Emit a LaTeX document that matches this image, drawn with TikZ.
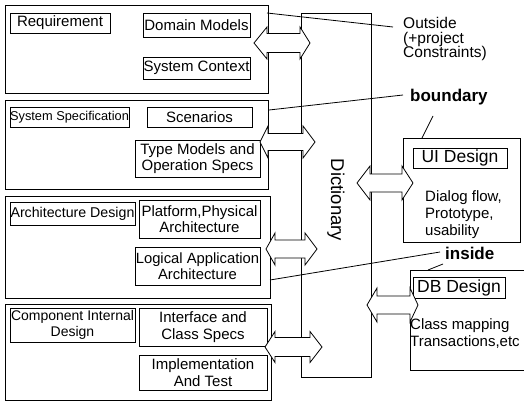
\documentclass[tikz,border=0pt]{standalone}
\usepackage{fontspec}
\setmainfont{Liberation Sans}
\newcommand\bx[7]{\node[#6, minimum width={(#4)-(#2)}, minimum height={(#5)-(#3)}] (#1) at ({((#2)+(#4))/2},{((#3)+(#5))/2}) {#7};}
\newcommand\darr[7]{% xl tip, xl back, xr back, xr tip, yc, bodyhalf, headhalf
  \draw[blk] (#1,#5) -- (#2,#5-#7) -- (#2,#5-#6) -- (#3,#5-#6) -- (#3,#5-#7) -- (#4,#5) -- (#3,#5+#7) -- (#3,#5+#6) -- (#2,#5+#6) -- (#2,#5+#7) -- cycle;}
\begin{document}
\begin{tikzpicture}[x=1pt,y=-1pt,
  frame/.style={draw, line width=0.8pt, inner sep=0pt},
  lbl/.style={draw, line width=0.8pt, inner sep=0pt, align=center, font=\fontsize{15}{16.5}\selectfont},
  txt/.style={inner sep=0pt, align=left, font=\fontsize{15}{17}\selectfont},
  big/.style={inner sep=0pt, font=\fontsize{17}{20}\selectfont\bfseries},
  blk/.style={draw, fill=white, line width=0.8pt, line join=miter},
  ln/.style={draw, line width=0.8pt}]
\useasboundingbox (0,0) rectangle (524,404);
% stage frames
\bx{s1}{5}{5}{268}{93}{frame}{}
\bx{s2}{5}{100}{268}{189}{frame}{}
\bx{s3}{5}{196}{270}{298}{frame}{}
\bx{s4}{5}{304}{271}{400}{frame}{}
% dictionary
\bx{dict}{301}{13}{371}{377}{frame}{}
\node[rotate=-90, inner sep=0pt, font=\fontsize{18.5}{20}\selectfont] (dictlabel) at (336,200) {Dictionary};
% labels in stages
\bx{req}{10}{13}{110}{33}{lbl}{Requirement}
\bx{dom}{143}{13}{250}{37}{lbl}{Domain Models}
\bx{ctx}{143}{57}{250}{79}{lbl}{System Context}
\bx{sysspec}{10}{107}{129}{127}{lbl,font=\fontsize{12.8}{16}\selectfont}{System Specification}
\bx{scen}{147}{107}{252}{127}{lbl}{Scenarios}
\bx{type}{135}{140}{260}{177}{lbl}{Type Models and\\Operation Specs}
\bx{arch}{10}{202}{135}{225}{lbl,font=\fontsize{14.2}{16}\selectfont}{Architecture Design}
\bx{plat}{139}{200}{260}{238}{lbl}{Platform,Physical\\Architecture}
\bx{logi}{135}{247}{260}{285}{lbl,font=\fontsize{14.8}{16.5}\selectfont}{Logical Application\\Architecture}
\bx{comp}{10}{308}{135}{342}{lbl,font=\fontsize{14}{16.5}\selectfont}{Component Internal\\Design}
\bx{intf}{139}{308}{267}{346}{lbl}{Interface and\\Class Specs}
\bx{impl}{139}{355}{267}{390}{lbl}{Implementation\\And Test}
% UI design
\bx{ui}{403}{138}{520}{242}{frame}{}
\bx{uititle}{413}{148}{507}{168}{lbl,font=\fontsize{17.5}{20}\selectfont}{UI Design}
\node[txt, anchor=west] (uitext) at (425,215) {Dialog flow,\\Prototype,\\usability};
% DB design (right side runs off the page)
\coordinate (dbtr) at (530,270);
\coordinate (dbtl) at (410,270);
\coordinate (dbbl) at (410,370);
\coordinate (dbbr) at (530,370);
\draw[line width=0.8pt] (dbtr) -- (dbtl) -- (dbbl) -- (dbbr);
\bx{dbtitle}{413}{277}{505}{298}{lbl,font=\fontsize{17.5}{20}\selectfont}{DB Design}
\node[txt, anchor=west] (dbtext) at (410,334) {Class mapping\\Transactions,etc};
% block arrows
\darr{254}{267}{300}{310}{43}{9.5}{16}
\darr{260}{268}{303}{315}{142}{8.5}{16}
\darr{266}{275}{305}{317}{249}{9}{16}
\darr{265}{275}{310}{322}{347}{9.5}{15.5}
\darr{357}{370}{402}{413}{183}{9}{17}
\darr{367}{377}{410}{418}{305}{9}{17}
% annotations
\node[inner sep=0pt, align=left, anchor=west, font=\fontsize{15.5}{14.5}\selectfont] (outside) at (403,39) {Outside\\(+project\\Constraints)};
\node[big, anchor=west] (boundary) at (410,97) {boundary};
\node[big, anchor=west] (inside) at (445,253) {inside};
\coordinate (o1) at (267,13);
\coordinate (o2) at (393,27);
\draw[ln] (o1) -- (o2);
\coordinate (b1) at (269,110);
\coordinate (b2) at (403,95);
\draw[ln] (b1) -- (b2);
\coordinate (b3) at (422,138);
\coordinate (b4) at (433,116);
\draw[ln] (b3) -- (b4);
\coordinate (i1) at (270,280);
\coordinate (i2) at (440,252);
\draw[ln] (i1) -- (i2);
\coordinate (i3) at (428,270);
\coordinate (i4) at (443,264);
\draw[ln] (i3) -- (i4);
\end{tikzpicture}
\end{document}
